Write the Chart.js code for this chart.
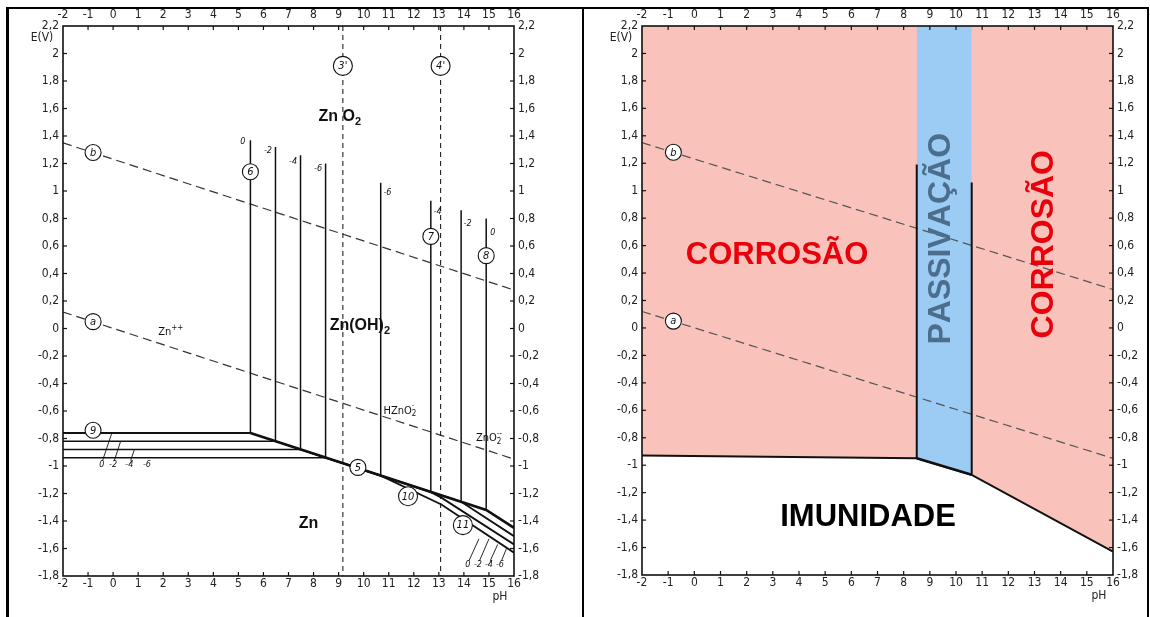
<!DOCTYPE html>
<html>
<head>
<meta charset="utf-8">
<script src="https://cdn.jsdelivr.net/npm/chart.js@4.4.1/dist/chart.umd.min.js"></script>
<style>
  body { margin: 0; background: #fff; width: 1150px; height: 617px; overflow: hidden; position: relative; }
  .frame { position: absolute; left: 6px; top: 7px; width: 1138px; height: 620px; border-left: 3px solid #000; border-top: 2px solid #000; border-right: 2px solid #000; }
  .divider { position: absolute; left: 582px; top: 7px; width: 2px; height: 620px; background: #000; }
  #leftChart { position: absolute; left: 8px; top: 9px; }
  #rightChart { position: absolute; left: 585px; top: 9px; }
</style>
</head>
<body>
<div class="frame"></div>
<div class="divider"></div>
<canvas id="leftChart" width="574" height="600"></canvas>
<canvas id="rightChart" width="563" height="600"></canvas>
<script>
// axis ticks
const phTicks = [-2, -1, 0, 1, 2, 3, 4, 5, 6, 7, 8, 9, 10, 11, 12, 13, 14, 15, 16];
const phTickLabels = ['-2', '-1', '0', '1', '2', '3', '4', '5', '6', '7', '8', '9', '10', '11', '12', '13', '14', '15', '16'];
const eTicks = [2.2, 2, 1.8, 1.6, 1.4, 1.2, 1, 0.8, 0.6, 0.4, 0.2, 0, -0.2, -0.4, -0.6, -0.8, -1, -1.2, -1.4, -1.6, -1.8];
const eTickLabels = ['2,2', '2', '1,8', '1,6', '1,4', '1,2', '1', '0,8', '0,6', '0,4', '0,2', '0', '-0,2', '-0,4', '-0,6', '-0,8', '-1', '-1,2', '-1,4', '-1,6', '-1,8'];

// water lines a and b (pH -2 -> 16)
const waterPh = [-2, 16];
const lineAE = [0.12, -0.95];
const lineBE = [1.35, 0.28];

// left diagram, log concentrations 0, -2, -4, -6
const logConc = [0, -2, -4, -6];
const zn2Potential = [-0.76, -0.82, -0.88, -0.94];      // line 9
const line6Ph = [5.48, 6.48, 7.48, 8.48];              // line 6
const line6Top = [1.37, 1.32, 1.26, 1.20];
const line78Ph = [14.89, 13.89, 12.68, 10.68];          // lines 7 / 8
const line78Top = [0.80, 0.86, 0.93, 1.06];
const line78Bottom = [-1.32, -1.26, -1.19, -1.07];
const znBoundaryPh = [[5.48, 14.89, 16], [6.48, 13.89, 16], [7.48, 12.68, 13.1, 16], [8.48, 10.68, 13.1, 16]];
const znBoundaryE = [[-0.76, -1.32, -1.45], [-0.82, -1.26, -1.51], [-0.88, -1.19, -1.23, -1.57], [-0.94, -1.07, -1.28, -1.63]];
const dashedPh = [9.17, 13.07];                         // 3' and 4'

// right diagram
const immunityPh = [-2, 8.5, 10.6, 16];
const immunityE = [-0.93, -0.95, -1.07, -1.63];
const passivePh = [8.5, 10.6];
const passiveTop = [1.19, 1.06];
const passiveBottom = [-0.95, -1.07];

const tickFont = "'Liberation Sans Narrow', 'DejaVu Sans Condensed', 'Liberation Sans', sans-serif";
const boldFont = "'Liberation Sans', Arial, sans-serif";

function pts(xs, ys) {
  return xs.map((x, i) => ({ x: x, y: ys[i] }));
}

function seg(data, width, color, dash) {
  return {
    data: data, borderColor: color || '#111', borderWidth: width, borderDash: dash || [],
    pointRadius: 0, fill: false, tension: 0, order: 1
  };
}

function axes(sz) {
  const xb = {
    type: 'linear', min: -2, max: 16,
    grid: { display: false, drawTicks: false }, border: { display: false },
    afterBuildTicks: s => { s.ticks = phTicks.map(v => ({ value: v })); },
    ticks: { callback: (v, i) => phTickLabels[i], font: { size: 12, family: tickFont }, color: '#222', maxRotation: 0, autoSkip: false }
  };
  const yb = {
    type: 'linear', min: -1.8, max: 2.2,
    grid: { display: false, drawTicks: false }, border: { display: false },
    afterBuildTicks: s => { s.ticks = eTicks.map(v => ({ value: v })); },
    ticks: { callback: (v, i) => eTickLabels[i], font: { size: 12, family: tickFont }, color: '#222', autoSkip: false }
  };
  return {
    x: Object.assign({}, xb, { position: 'bottom', ticks: Object.assign({}, xb.ticks, { padding: 1 }), afterFit: s => { s.height = sz.bottom; } }),
    x2: Object.assign({}, xb, { position: 'top', ticks: Object.assign({}, xb.ticks, { padding: 4 }), afterFit: s => { s.height = sz.top; } }),
    y: Object.assign({}, yb, { position: 'left', ticks: Object.assign({}, yb.ticks, { padding: 4 }), afterFit: s => { s.width = sz.left; } }),
    y2: Object.assign({}, yb, { position: 'right', ticks: Object.assign({}, yb.ticks, { padding: 4 }), afterFit: s => { s.width = sz.right; } })
  };
}

// rich text: '_' next char subscript, '^' next char superscript
function drawRich(ctx, str, cx, cy, size, weight, style, color, family) {
  const parts = [];
  for (let i = 0; i < str.length; i++) {
    const c = str[i];
    if (c === '_') parts.push({ s: str[++i], dy: size * 0.3, k: 0.7, sub: true });
    else if (c === '^') parts.push({ s: str[++i], dy: -size * 0.45, k: 0.7, sup: true });
    else parts.push({ s: c, dy: 0, k: 1 });
  }
  let w = 0;
  parts.forEach((p, i) => {
    ctx.font = `${style} ${weight} ${Math.round(size * p.k)}px ${family}`;
    p.w = ctx.measureText(p.s).width;
    const prev = parts[i - 1];
    if (p.sup && prev && prev.sub) { p.x = prev.x; p.stack = true; }
    else if (p.sup && prev && prev.sup && prev.stack) { p.x = prev.x + prev.w; w = Math.max(w, p.x + p.w); }
    else { p.x = w; w += p.w; }
  });
  ctx.fillStyle = color;
  ctx.textBaseline = 'middle';
  ctx.textAlign = 'left';
  parts.forEach(p => {
    ctx.font = `${style} ${weight} ${Math.round(size * p.k)}px ${family}`;
    ctx.fillText(p.s, cx - w / 2 + p.x, cy + p.dy);
  });
}

function makeDecor(cfg) {
  return {
    id: 'decor',
    afterDatasetsDraw(chart) {
      const ctx = chart.ctx, a = chart.chartArea;
      const X = v => chart.scales.x.getPixelForValue(v);
      const Y = v => chart.scales.y.getPixelForValue(v);
      ctx.save();
      // leader lines
      ctx.strokeStyle = '#111'; ctx.lineWidth = 0.9; ctx.setLineDash([]);
      (cfg.leaders || []).forEach(l => {
        ctx.beginPath(); ctx.moveTo(X(l[0]), Y(l[1])); ctx.lineTo(X(l[2]), Y(l[3])); ctx.stroke();
      });
      // frame
      ctx.strokeStyle = '#111'; ctx.lineWidth = 1.6;
      ctx.strokeRect(a.left, a.top, a.right - a.left, a.bottom - a.top);
      // inward tick marks
      ctx.lineWidth = 1.2;
      phTicks.slice(1, -1).forEach(v => {
        const x = X(v);
        ctx.beginPath(); ctx.moveTo(x, a.top); ctx.lineTo(x, a.top + 4); ctx.stroke();
        ctx.beginPath(); ctx.moveTo(x, a.bottom); ctx.lineTo(x, a.bottom - 4); ctx.stroke();
      });
      eTicks.slice(1, -1).forEach(v => {
        const y = Y(v);
        ctx.beginPath(); ctx.moveTo(a.left, y); ctx.lineTo(a.left + 4, y); ctx.stroke();
        ctx.beginPath(); ctx.moveTo(a.right, y); ctx.lineTo(a.right - 4, y); ctx.stroke();
      });
      // circled marks
      (cfg.circles || []).forEach(c => {
        const r = c.t.length > 1 ? 9.5 : 8;
        ctx.beginPath(); ctx.arc(X(c.x), Y(c.y), r, 0, Math.PI * 2);
        ctx.fillStyle = '#fff'; ctx.fill();
        ctx.lineWidth = 1.1; ctx.strokeStyle = '#111'; ctx.stroke();
        ctx.fillStyle = '#111';
        ctx.font = `italic 11px ${tickFont}`;
        ctx.textAlign = 'center'; ctx.textBaseline = 'middle';
        ctx.fillText(c.t, X(c.x), Y(c.y) + 0.5);
      });
      // texts
      (cfg.texts || []).forEach(t => {
        ctx.save();
        ctx.translate(X(t.x), Y(t.y));
        if (t.rot) ctx.rotate(t.rot);
        drawRich(ctx, t.t, 0, 0, t.size, t.weight || 'normal', t.style || 'normal', t.color || '#111', t.family || tickFont);
        ctx.restore();
      });
      // axis names
      ctx.fillStyle = '#222'; ctx.textAlign = 'center'; ctx.textBaseline = 'middle';
      ctx.font = `12px ${tickFont}`;
      ctx.fillText('E(V)', a.left - 21, a.top + 12);
      ctx.fillText('pH', a.right - 14, a.bottom + 21);
      ctx.restore();
    }
  };
}

const baseOptions = sz => ({
  responsive: false, animation: false, devicePixelRatio: 1,
  layout: { padding: 0 },
  plugins: { legend: { display: false }, tooltip: { enabled: false } },
  scales: axes(sz)
});

// ---------- left chart ----------
const leftSets = [];
logConc.forEach((c, i) => {
  leftSets.push(seg([{ x: -2, y: zn2Potential[i] }, { x: line6Ph[i], y: zn2Potential[i] }], i === 0 ? 2 : 1.5));
  leftSets.push(seg([{ x: line6Ph[i], y: zn2Potential[i] }, { x: line6Ph[i], y: line6Top[i] }], 1.5));
  leftSets.push(seg([{ x: line78Ph[i], y: line78Bottom[i] }, { x: line78Ph[i], y: line78Top[i] }], 1.5));
  leftSets.push(seg(pts(znBoundaryPh[i], znBoundaryE[i]), i === 0 ? 2.6 : 1.8));
});
dashedPh.forEach(p => leftSets.push(seg([{ x: p, y: 2.2 }, { x: p, y: -1.8 }], 1.1, '#222', [5, 4])));
leftSets.push(seg(pts(waterPh, lineAE), 1.2, '#333', [9, 5]));
leftSets.push(seg(pts(waterPh, lineBE), 1.2, '#333', [9, 5]));

const leftDecor = {
  circles: [
    { t: 'b', x: -0.8, y: 1.28 }, { t: 'a', x: -0.8, y: 0.05 }, { t: '9', x: -0.8, y: -0.74 },
    { t: '6', x: 5.48, y: 1.14 }, { t: '7', x: 12.68, y: 0.67 }, { t: '8', x: 14.89, y: 0.53 },
    { t: '5', x: 9.77, y: -1.01 }, { t: '10', x: 11.77, y: -1.22 }, { t: '11', x: 13.96, y: -1.43 },
    { t: "3'", x: 9.17, y: 1.91 }, { t: "4'", x: 13.07, y: 1.91 }
  ],
  texts: [
    { t: 'Zn O_2', x: 9.05, y: 1.54, size: 16, weight: 'bold', family: boldFont },
    { t: 'Zn(OH)_2', x: 9.85, y: 0.02, size: 16, weight: 'bold', family: boldFont },
    { t: 'Zn', x: 7.8, y: -1.42, size: 16, weight: 'bold', family: boldFont },
    { t: 'Zn^+^+', x: 2.3, y: -0.03, size: 11 },
    { t: 'HZnO_2^-', x: 11.45, y: -0.6, size: 11 },
    { t: 'ZnO_2^-^-', x: 15.0, y: -0.8, size: 11 },
    { t: '0', x: 5.18, y: 1.36, size: 9, style: 'italic' },
    { t: '-2', x: 6.18, y: 1.29, size: 9, style: 'italic' },
    { t: '-4', x: 7.18, y: 1.21, size: 9, style: 'italic' },
    { t: '-6', x: 8.18, y: 1.16, size: 9, style: 'italic' },
    { t: '-6', x: 10.95, y: 0.99, size: 9, style: 'italic' },
    { t: '-4', x: 12.95, y: 0.85, size: 9, style: 'italic' },
    { t: '-2', x: 14.15, y: 0.76, size: 9, style: 'italic' },
    { t: '0', x: 15.15, y: 0.70, size: 9, style: 'italic' },
    { t: '0', x: -0.45, y: -0.99, size: 9, style: 'italic' },
    { t: '-2', x: 0.0, y: -0.99, size: 9, style: 'italic' },
    { t: '-4', x: 0.65, y: -0.99, size: 9, style: 'italic' },
    { t: '-6', x: 1.35, y: -0.99, size: 9, style: 'italic' },
    { t: '0', x: 14.16, y: -1.72, size: 9, style: 'italic' },
    { t: '-2', x: 14.56, y: -1.72, size: 9, style: 'italic' },
    { t: '-4', x: 15.0, y: -1.72, size: 9, style: 'italic' },
    { t: '-6', x: 15.44, y: -1.72, size: 9, style: 'italic' }
  ],
  leaders: [
    [-0.42, -0.96, -0.05, -0.76], [0.05, -0.96, 0.3, -0.82], [0.7, -0.96, 0.85, -0.88],
    [14.2, -1.69, 14.6, -1.53], [14.62, -1.69, 15.0, -1.53], [15.05, -1.69, 15.35, -1.57], [15.5, -1.69, 15.7, -1.6]
  ]
};

new Chart(document.getElementById('leftChart'), {
  type: 'line',
  data: { datasets: leftSets },
  options: baseOptions({ top: 17, bottom: 33, left: 55, right: 68 }),
  plugins: [makeDecor(leftDecor)]
});

// ---------- right chart ----------
const rightSets = [
  Object.assign(seg(pts(immunityPh, immunityE), 2, '#111'), { fill: 'end', backgroundColor: '#f9c3bb', order: 10 }),
  Object.assign(seg(pts(passivePh, passiveBottom), 0, 'rgba(0,0,0,0)'), { fill: 'end', backgroundColor: '#9ccbf4', order: 5 }),
  seg(pts(passivePh, passiveBottom), 2.6, '#111'),
  seg([{ x: passivePh[0], y: passiveBottom[0] }, { x: passivePh[0], y: passiveTop[0] }], 2, '#111'),
  seg([{ x: passivePh[1], y: passiveBottom[1] }, { x: passivePh[1], y: passiveTop[1] }], 2, '#111'),
  seg(pts(waterPh, lineAE), 1.2, '#555', [9, 5]),
  seg(pts(waterPh, lineBE), 1.2, '#555', [9, 5])
];

const rightDecor = {
  circles: [{ t: 'b', x: -0.8, y: 1.28 }, { t: 'a', x: -0.8, y: 0.05 }],
  texts: [
    { t: 'CORROSÃO', x: 3.16, y: 0.53, size: 31, weight: 'bold', family: boldFont, color: '#e8000b' },
    { t: 'PASSIVAÇÃO', x: 9.43, y: 0.65, size: 32, weight: 'bold', family: boldFont, color: '#4c6d8c', rot: -Math.PI / 2 },
    { t: 'CORROSÃO', x: 13.36, y: 0.61, size: 32, weight: 'bold', family: boldFont, color: '#e8000b', rot: -Math.PI / 2 },
    { t: 'IMUNIDADE', x: 6.64, y: -1.38, size: 31, weight: 'bold', family: boldFont, color: '#000' }
  ]
};

new Chart(document.getElementById('rightChart'), {
  type: 'line',
  data: { datasets: rightSets },
  options: baseOptions({ top: 17, bottom: 34, left: 57, right: 35 }),
  plugins: [makeDecor(rightDecor)]
});
</script>
</body>
</html>
